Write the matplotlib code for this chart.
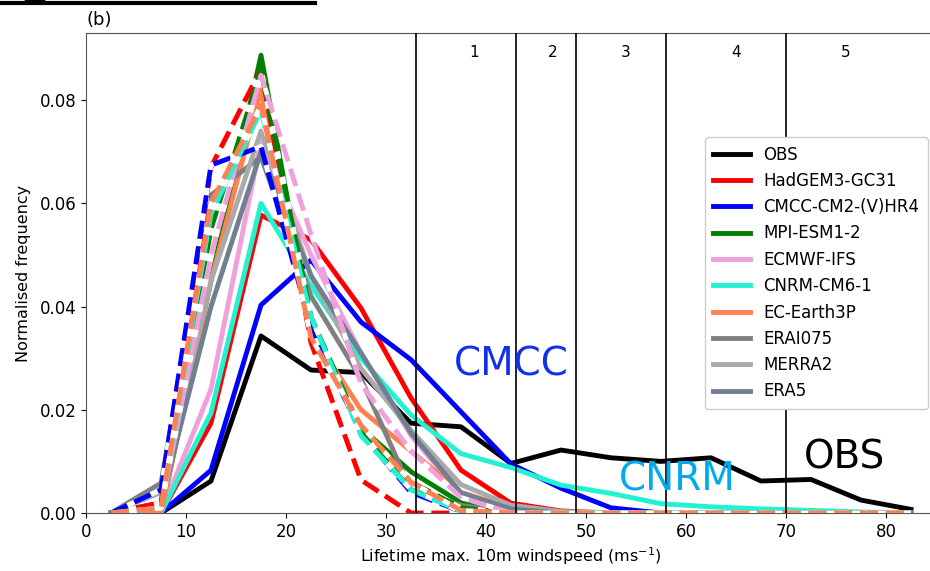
import matplotlib
matplotlib.use("Agg")
import matplotlib.pyplot as plt
from matplotlib.lines import Line2D
from matplotlib.patches import Ellipse

# ---------------- data ----------------
bins = [2.5, 7.5, 12.5, 17.5, 22.5, 27.5, 32.5, 37.5, 42.5, 47.5, 52.5,
        57.5, 62.5, 67.5, 72.5, 77.5, 82.5]

obs = [0, 0, 0.0062, 0.0343, 0.0277, 0.0272, 0.0174, 0.0167, 0.0096, 0.0122,
       0.0107, 0.0100, 0.0107, 0.0062, 0.0065, 0.0025, 0.0007]

hadgem_lr = [0, 0, 0.0174, 0.0577, 0.0529, 0.0397, 0.0223, 0.0083, 0.0019,
             0.0004, 0, 0, 0, 0, 0, 0, 0]
hadgem_hr = [0, 0.002, 0.067, 0.086, 0.033, 0.0064, 0, 0, 0, 0, 0, 0, 0, 0,
             0, 0, 0]

cmcc_lr = [0, 0, 0.0083, 0.0403, 0.049, 0.037, 0.0297, 0.0196, 0.0095,
           0.0048, 0.001, 0, 0, 0, 0, 0, 0]
cmcc_hr = [0, 0.0045, 0.0674, 0.071, 0.036, 0.0155, 0.004, 0.0003, 0, 0, 0,
           0, 0, 0, 0, 0, 0]

mpi_lr = [0, 0, 0.045, 0.0887, 0.036, 0.0165, 0.008, 0.002, 0.0003, 0, 0, 0,
          0, 0, 0, 0, 0]
mpi_hr = [0, 0.001, 0.055, 0.086, 0.038, 0.016, 0.006, 0.001, 0, 0, 0, 0, 0,
          0, 0, 0, 0]

ecmwf_lr = [0, 0, 0.024, 0.072, 0.050, 0.031, 0.015, 0.0035, 0.0005, 0, 0,
            0, 0, 0, 0, 0, 0]
ecmwf_hr = [0, 0.001, 0.050, 0.0848, 0.054, 0.025, 0.012, 0.003, 0, 0, 0, 0,
            0, 0, 0, 0, 0]

cnrm_lr = [0, 0, 0.0194, 0.060, 0.044, 0.030, 0.019, 0.0115, 0.0088, 0.0054,
           0.0038, 0.0018, 0.0012, 0.0008, 0.0005, 0.0002, 0]
cnrm_hr = [0, 0.001, 0.058, 0.078, 0.038, 0.015, 0.0045, 0.0003, 0, 0, 0, 0,
           0, 0, 0, 0, 0]

ecearth_lr = [0, 0, 0.045, 0.082, 0.035, 0.020, 0.012, 0.004, 0.001, 0, 0,
              0, 0, 0, 0, 0, 0]
ecearth_hr = [0, 0.001, 0.060, 0.079, 0.034, 0.017, 0.006, 0.0005, 0, 0, 0,
              0, 0, 0, 0, 0, 0]

erai075 = [0, 0.0058, 0.0616, 0.069, 0.042, 0.026, 0.0045, 0.0015, 0, 0, 0,
           0, 0, 0, 0, 0, 0]
merra2 = [0, 0.004, 0.045, 0.074, 0.046, 0.028, 0.016, 0.0055, 0.0015,
          0.0003, 0, 0, 0, 0, 0, 0, 0]
era5 = [0, 0.002, 0.040, 0.070, 0.046, 0.031, 0.0155, 0.0039, 0.0008, 0, 0,
        0, 0, 0, 0, 0, 0]

category_bounds = [33, 43, 49, 58, 70]
category_labels = ["1", "2", "3", "4", "5"]
category_label_x = [38.8, 46.7, 54, 65, 76]

# ---------------- style ----------------
c_obs = "black"
c_had = "red"
c_cmcc = "blue"
c_mpi = "green"
c_ecmwf = "#F0A0DD"
c_cnrm = "#22F2D2"
c_ece = "#FF8050"
c_erai = "#808080"
c_merra = "#AAAAAA"
c_era5 = "#708090"

lw = 3.5

fig = plt.figure(figsize=(9.3, 5.71), dpi=100)
ax = fig.add_axes([86 / 930, 58 / 571, 850 / 930, 480 / 571])

ax.plot(bins, obs, color=c_obs, lw=lw, label="OBS", zorder=2)

models = [
    ("HadGEM3-GC31", hadgem_lr, hadgem_hr, c_had),
    ("CMCC-CM2-(V)HR4", cmcc_lr, cmcc_hr, c_cmcc),
    ("MPI-ESM1-2", mpi_lr, mpi_hr, c_mpi),
    ("ECMWF-IFS", ecmwf_lr, ecmwf_hr, c_ecmwf),
    ("CNRM-CM6-1", cnrm_lr, cnrm_hr, c_cnrm),
    ("EC-Earth3P", ecearth_lr, ecearth_hr, c_ece),
]
for name, lr, hr, col in models:
    ax.plot(bins, lr, color=col, lw=lw, label=name, zorder=3)

for name, vals, col in [("ERAI075", erai075, c_erai),
                        ("MERRA2", merra2, c_merra),
                        ("ERA5", era5, c_era5)]:
    ax.plot(bins, vals, color=col, lw=lw, label=name, zorder=4)

for name, lr, hr, col in models:
    ax.plot(bins, hr, color=col, lw=lw, ls="--", gapcolor="white", zorder=5)

for b in category_bounds:
    ax.axvline(b, color="black", lw=1.2, zorder=6)
for lab, xl in zip(category_labels, category_label_x):
    ax.text(xl, 0.96, lab, transform=ax.get_xaxis_transform(), ha="center",
            va="center", fontsize=11)

ax.set_xlim(0, 85)
ax.set_ylim(0, 0.093)
ax.set_xticks(range(0, 90, 10))
ax.set_yticks([0, 0.02, 0.04, 0.06, 0.08])
ax.set_yticklabels(["0.00", "0.02", "0.04", "0.06", "0.08"])
ax.tick_params(labelsize=12)
ax.set_xlabel("Lifetime max. 10m windspeed (ms$^{-1}$)", fontsize=11.5,
              labelpad=3)
ax.set_ylabel("Normalised frequency", fontsize=11.5, labelpad=6)
ax.set_title("(b)", loc="left", fontsize=13, pad=6)
for s in ax.spines.values():
    s.set_color("#555555")

leg = ax.legend(loc="center right", bbox_to_anchor=(1.0, 0.5),
                fontsize=12, handlelength=2.2, labelspacing=0.5,
                framealpha=1.0, borderpad=0.5)
leg.set_zorder(10)

ax.text(36.8, 0.0287, "CMCC", color="#1030F0", fontsize=28,
        ha="left", va="center", zorder=7)
ax.text(53.3, 0.0064, "CNRM", color="#00AAEE", fontsize=28,
        ha="left", va="center", zorder=7)
ax.text(71.8, 0.0107, "OBS", color="black", fontsize=28,
        ha="left", va="center", zorder=7)

fig.add_artist(Line2D([0, 315 / 930], [1 - 3 / 571, 1 - 3 / 571],
                      color="black", lw=3, transform=fig.transFigure))
fig.add_artist(Ellipse((35 / 930, 1 + 10 / 571), 28 / 930, 28 / 571,
                       color="black", transform=fig.transFigure))

fig.savefig("out.png", dpi=100)
